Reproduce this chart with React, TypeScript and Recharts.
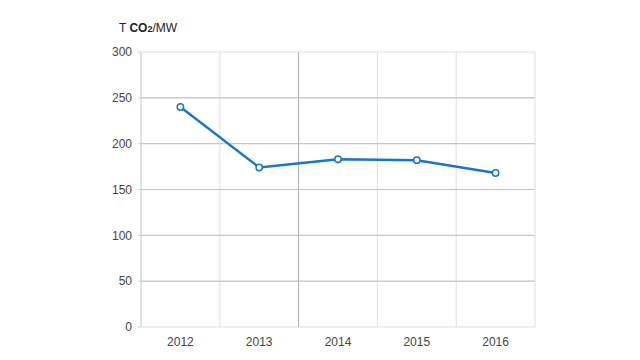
import React from 'react';
import { LineChart, Line, XAxis, YAxis, CartesianGrid, ReferenceLine } from 'recharts';

const years = ['2012', '2013', '2014', '2015', '2016'];
const values = [240, 174, 183, 182, 168];
const yTicks = [0, 50, 100, 150, 200, 250, 300];
const innerYLines = [50, 100, 150, 200, 250];
const bandEdges = [0, 1, 2, 3, 4, 5];
const bandCenters = [0.5, 1.5, 2.5, 3.5, 4.5];
const darkEdge = 2;

const data = years.map((y, i) => ({ x: i + 0.5, label: y, v: values[i] }));

const font = { fontFamily: 'Liberation Sans, Arial, sans-serif', fontSize: 12, fill: '#444' };

const EmptyTick = () => <g />;

export default function App() {
  return (
    <div style={{ position: 'absolute', left: 0, top: 0, width: 640, height: 360, background: '#fff' }}>
      <div
        style={{
          position: 'absolute',
          left: 119,
          top: 21,
          fontFamily: 'Liberation Sans, Arial, sans-serif',
          fontSize: 12,
          color: '#222',
          whiteSpace: 'nowrap',
          lineHeight: '14px',
        }}
      >
        T <b>CO</b><span style={{ fontSize: 9, fontWeight: 'bold' }}>2</span>/MW
      </div>
      <LineChart width={640} height={360} data={data} margin={{ top: 52, right: 105, bottom: 0, left: 0 }}>
        <CartesianGrid xAxisId="grid" stroke="#dedede" strokeWidth={1} vertical={false} />
        <XAxis
          xAxisId="grid"
          dataKey="x"
          type="number"
          domain={[0, 5]}
          ticks={bandEdges}
          tick={EmptyTick}
          tickSize={4}
          height={0}
          axisLine={{ stroke: '#dcdcdc' }}
          tickLine={{ stroke: '#d4d4d4' }}
        />
        <XAxis
          xAxisId="labels"
          dataKey="x"
          type="number"
          domain={[0, 5]}
          ticks={bandCenters}
          tickFormatter={(v: number) => years[Math.round(v - 0.5)]}
          axisLine={false}
          tickLine={false}
          tickSize={0}
          tickMargin={10}
          height={33}
          tick={font}
        />
        <YAxis
          domain={[0, 300]}
          ticks={yTicks}
          width={141}
          tickSize={3}
          tickMargin={6}
          axisLine={{ stroke: '#d4d4d4' }}
          tickLine={{ stroke: '#d0d0d0' }}
          tick={font}
        />
        {bandEdges.map((x) => (
          <ReferenceLine
            key={'v' + x}
            xAxisId="grid"
            x={x}
            stroke={x === darkEdge ? '#acacac' : '#dedede'}
            strokeWidth={1}
          />
        ))}
        {innerYLines.map((y) => (
          <ReferenceLine key={y} xAxisId="grid" y={y} stroke="#c0c0c0" strokeWidth={1} />
        ))}
        <Line
          xAxisId="grid"
          dataKey="v"
          type="linear"
          stroke="#1874CD"
          strokeWidth={2.5}
          dot={{ r: 3.2, stroke: '#1874CD', strokeWidth: 1.5, fill: '#fff' }}
          isAnimationActive={false}
        />
      </LineChart>
    </div>
  );
}
